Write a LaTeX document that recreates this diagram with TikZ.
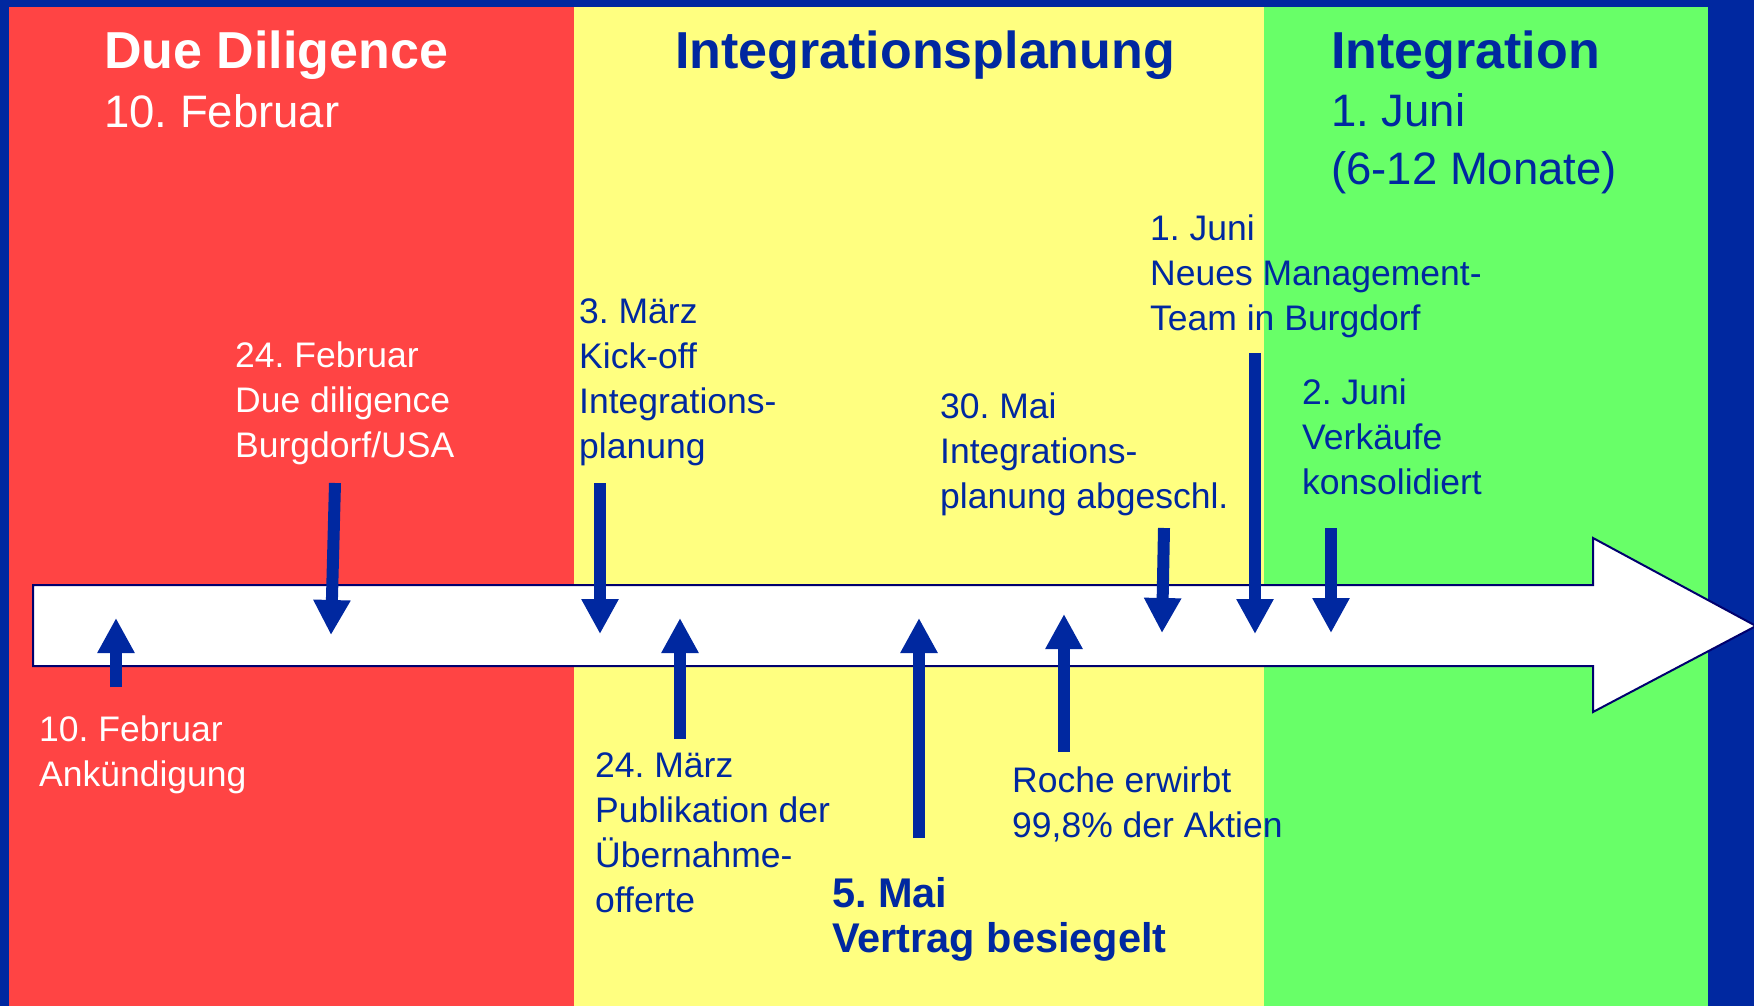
\documentclass[tikz,border=0pt]{standalone}
\usepackage{fontspec}
\setmainfont{Liberation Sans}
\usetikzlibrary{arrows.meta}
\frenchspacing
\definecolor{bandblue}{RGB}{0,40,160}
\definecolor{bandred}{RGB}{255,68,68}
\definecolor{bandyellow}{RGB}{255,255,128}
\definecolor{bandgreen}{RGB}{104,255,104}
\definecolor{navyline}{RGB}{0,0,110}
\begin{document}
\begin{tikzpicture}[x=1pt,y=-1pt,
  evt/.style={anchor=north west, inner sep=0pt, align=left, yshift=31.5pt, font=\fontsize{35.5}{45}\selectfont\frenchspacing},
  evtw/.style={evt, text=white},
  evtb/.style={evt, text=bandblue},
  bigevt/.style={evt, text=bandblue, font=\fontsize{41.5}{45}\selectfont\bfseries\frenchspacing},
  ttl/.style={anchor=base west, inner sep=0pt, font=\fontsize{52}{59}\selectfont\bfseries\frenchspacing},
  sub/.style={anchor=base west, inner sep=0pt, font=\fontsize{45.5}{58}\selectfont\frenchspacing},
  ptr/.style={draw=bandblue, line width=12pt, -{Triangle[width=35pt,length=35pt]}},
]
\useasboundingbox (0,0) rectangle (1754,1006);
% background and bands
\fill[bandblue] (0,0) rectangle (1754,1006);
\fill[bandred] (9,7) rectangle (574,1006);
\fill[bandyellow] (574,7) rectangle (1264,1006);
\fill[bandgreen] (1264,7) rectangle (1708,1006);
% main timeline arrow
\draw[draw=navyline, line width=2pt, fill=white, line join=miter]
  (33,585) -- (1593,585) -- (1593,538) -- (1756,626) -- (1593,712) -- (1593,666) -- (33,666) -- cycle;
% titles
\node[ttl, text=white] (t1) at (104,69) {Due Diligence};
\node[sub, text=white] (t1b) at (104,128) {10. Februar};
\node[ttl, text=bandblue] (t2) at (675,69) {Integrationsplanung};
\node[ttl, text=bandblue] (t3) at (1331,69) {Integration};
\node[sub, text=bandblue] (t3b) at (1331,127) {1. Juni};
\node[sub, text=bandblue] (t3c) at (1331,185) {(6-12 Monate)};
% event texts
\node[evtw] (e1) at (39,741) {\strut 10. Februar\\Ankündigung};
\node[evtw] (e2) at (235,367) {\strut 24. Februar\\Due diligence\\Burgdorf/USA};
\node[evtb] (e3) at (579,323) {\strut 3. März\\Kick-off\\Integrations-\\planung};
\node[evtb] (e4) at (595,777) {\strut 24. März\\Publikation der\\Übernahme-\\offerte};
\node[evtb] (e5) at (940,418) {\strut 30. Mai\\Integrations-\\planung abgeschl.};
\node[evtb] (e6) at (1012,792) {\strut Roche erwirbt\\99,8\% der Aktien};
\node[evtb] (e7) at (1150,240) {\strut 1. Juni\\Neues Management-\\Team in Burgdorf};
\node[evtb] (e8) at (1302,404) {\strut 2. Juni\\Verkäufe\\konsolidiert};
\node[bigevt] (e9) at (832,907) {\strut 5. Mai\\Vertrag besiegelt};
% pointer coordinates
\coordinate (p1s) at (116,687);  \coordinate (p1e) at (116,618);
\coordinate (p2s) at (335,483);  \coordinate (p2e) at (331,635);
\coordinate (p3s) at (600,483);  \coordinate (p3e) at (600,634);
\coordinate (p4s) at (680,739);  \coordinate (p4e) at (680,618);
\coordinate (p5s) at (919,838);  \coordinate (p5e) at (919,618);
\coordinate (p6s) at (1064,752); \coordinate (p6e) at (1064,614);
\coordinate (p7s) at (1164,528); \coordinate (p7e) at (1162,633);
\coordinate (p8s) at (1255,353); \coordinate (p8e) at (1255,634);
\coordinate (p9s) at (1331,528); \coordinate (p9e) at (1331,633);
\foreach \i in {1,...,9} {\draw[ptr] (p\i s) -- (p\i e);}
\end{tikzpicture}
\end{document}
